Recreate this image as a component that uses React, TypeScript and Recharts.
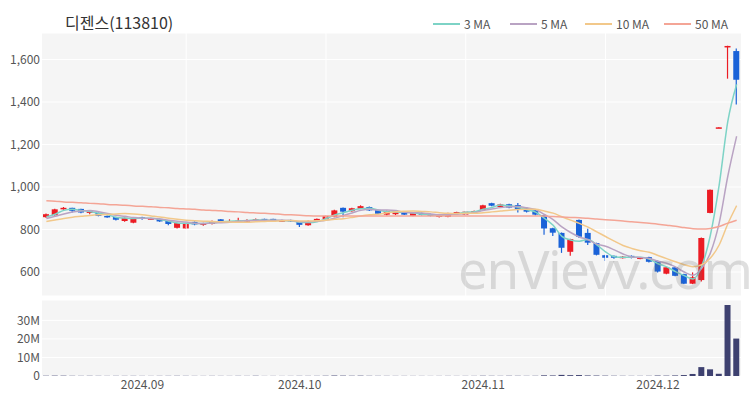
import { ComposedChart, BarChart, Bar, Line, XAxis, YAxis, CartesianGrid, ReferenceLine } from 'recharts';

const FONT = '"Noto Sans CJK KR", "Noto Sans", sans-serif';
const UP = '#ec1c24';
const DOWN = '#1a62d8';

// trading days, 2024.08.16 ~ 2024.12.13
const dates = [
  '08.16', '08.19', '08.20', '08.21', '08.22', '08.23', '08.26', '08.27', '08.28', '08.29', '08.30',
  '09.02', '09.03', '09.04', '09.05', '09.06', '09.09', '09.10', '09.11', '09.12', '09.13',
  '09.19', '09.20', '09.23', '09.24', '09.25', '09.26', '09.27', '09.30',
  '10.01', '10.02', '10.04', '10.07', '10.08', '10.10', '10.11', '10.14', '10.15', '10.16', '10.17',
  '10.18', '10.21', '10.22', '10.23', '10.24', '10.25', '10.28', '10.29', '10.30', '10.31',
  '11.01', '11.04', '11.05', '11.06', '11.07', '11.08', '11.11', '11.12', '11.13', '11.14',
  '11.15', '11.18', '11.19', '11.20', '11.21', '11.22', '11.25', '11.26', '11.27', '11.28',
  '12.02', '12.03', '12.04', '12.05', '12.06', '12.09', '12.10', '12.11', '12.12', '12.13',
];

const opens = [
  858, 868, 895, 902, 897, 878, 878, 864, 859, 840,
  832, 858, 850, 850, 840, 808, 805, 836, 822, 826,
  848, 834, 834, 838, 842, 850, 850, 843, 845, 836,
  820, 838, 848, 860, 902, 886, 898, 906, 892, 870,
  872, 882, 864, 878, 873, 862, 860, 878, 870, 880,
  892, 924, 906, 919, 915, 901, 890, 868, 806, 784,
  695, 845, 784, 736, 679, 676, 665, 676, 662, 670,
  652, 592, 622, 590, 545, 562, 878, 1280, 1660, 1640,
];
const closes = [
  872, 895, 902, 888, 880, 886, 864, 860, 846, 855,
  855, 850, 853, 838, 826, 830, 830, 824, 830, 840,
  838, 840, 842, 844, 848, 840, 842, 843, 838, 822,
  840, 850, 864, 890, 884, 900, 910, 890, 874, 887,
  886, 870, 877, 869, 864, 866, 877, 882, 884, 887,
  914, 912, 918, 903, 893, 884, 870, 805, 785, 714,
  755, 766, 738, 681, 667, 667, 672, 667, 668, 648,
  602, 622, 582, 545, 575, 760, 987, 1281, 1664, 1505,
];
const highs = [
  875, 898, 906, 903, 898, 890, 880, 866, 860, 857,
  858, 860, 855, 851, 842, 832, 832, 838, 832, 842,
  850, 848, 855, 848, 852, 851, 851, 846, 846, 838,
  842, 852, 866, 893, 904, 903, 914, 908, 893, 889,
  888, 884, 880, 880, 875, 868, 879, 884, 886, 889,
  917, 926, 921, 921, 925, 903, 892, 870, 808, 786,
  757, 847, 803, 738, 681, 678, 675, 678, 670, 672,
  654, 624, 624, 592, 598, 762, 988, 1282, 1665, 1652,
];
const lows = [
  855, 865, 893, 880, 876, 872, 862, 855, 842, 836,
  830, 846, 848, 836, 820, 805, 803, 820, 818, 824,
  836, 831, 831, 835, 840, 838, 840, 840, 835, 812,
  818, 836, 846, 858, 858, 883, 896, 887, 872, 866,
  868, 868, 862, 866, 862, 856, 858, 876, 866, 878,
  890, 910, 904, 900, 880, 880, 866, 775, 770, 690,
  676, 760, 727, 678, 652, 662, 663, 664, 660, 645,
  598, 589, 580, 543, 543, 555, 876, 1279, 1510, 1388,
];
// volume, millions of shares
const volumes = [
  0.15, 0.2, 0.18, 0.12, 0.1, 0.12, 0.1, 0.08, 0.1, 0.09,
  0.1, 0.08, 0.07, 0.09, 0.1, 0.12, 0.1, 0.08, 0.07, 0.09,
  0.08, 0.07, 0.1, 0.08, 0.07, 0.06, 0.07, 0.06, 0.07, 0.1,
  0.09, 0.1, 0.15, 0.25, 0.2, 0.15, 0.18, 0.12, 0.1, 0.09,
  0.08, 0.08, 0.07, 0.07, 0.06, 0.07, 0.08, 0.07, 0.08, 0.08,
  0.15, 0.12, 0.1, 0.1, 0.12, 0.1, 0.12, 0.35, 0.3, 0.6,
  0.45, 0.5, 0.3, 0.25, 0.2, 0.15, 0.12, 0.1, 0.1, 0.12,
  0.25, 0.2, 0.3, 0.5, 1.1, 4.8, 3.6, 1.2, 38.3, 20.2,
];
const ma3 = [
  860, 872, 890, 895, 890, 885, 877, 870, 857, 854,
  852, 853, 853, 847, 839, 831, 829, 828, 828, 831,
  836, 839, 840, 842, 845, 844, 843, 842, 841, 834,
  833, 837, 851, 868, 879, 891, 898, 900, 891, 884,
  882, 881, 878, 872, 870, 866, 869, 875, 881, 884,
  895, 904, 915, 911, 905, 893, 882, 853, 820, 768,
  751, 745, 753, 728, 695, 672, 669, 669, 669, 661,
  639, 624, 602, 583, 567, 627, 774, 1009, 1311, 1483,
];
const ma5 = [
  852, 862, 873, 882, 887, 890, 884, 876, 867, 862,
  856, 853, 852, 850, 844, 839, 835, 830, 828, 831,
  832, 834, 838, 841, 842, 843, 843, 843, 842, 837,
  837, 839, 843, 853, 866, 878, 890, 895, 892, 892,
  889, 881, 879, 878, 873, 869, 871, 872, 875, 879,
  889, 896, 903, 907, 908, 902, 894, 871, 847, 812,
  786, 765, 752, 731, 721, 704, 685, 671, 668, 664,
  651, 641, 624, 600, 585, 617, 690, 830, 1053, 1239,
];
const ma10 = [
  838, 845, 852, 858, 862, 866, 869, 871, 873, 875,
  873, 869, 864, 859, 853, 848, 844, 841, 839, 838,
  836, 835, 834, 834, 837, 838, 839, 841, 842, 840,
  840, 841, 843, 848, 851, 857, 864, 869, 872, 879,
  884, 886, 887, 885, 883, 879, 876, 875, 876, 876,
  879, 883, 887, 891, 894, 895, 895, 887, 877, 860,
  844, 829, 811, 789, 767, 745, 725, 711, 700, 693,
  678, 663, 648, 634, 625, 634, 666, 727, 827, 912,
];
const ma50 = [
  935, 933, 930, 928, 926, 923, 921, 918, 916, 914,
  911, 909, 907, 904, 902, 899, 897, 895, 892, 890,
  888, 885, 883, 880, 878, 876, 874, 871, 869, 867,
  865, 864, 864, 864, 864, 864, 864, 864, 863, 863,
  863, 863, 863, 863, 863, 863, 863, 863, 863, 863,
  863, 864, 864, 864, 864, 864, 864, 863, 861, 859,
  857, 855, 853, 849, 846, 843, 840, 836, 833, 830,
  825, 820, 815, 809, 804, 802, 805, 814, 830, 844,
];

const priceTicks = [600, 800, 1000, 1200, 1400, 1600];
const volumeTicks = [0, 10, 20, 30];
const monthTicks = ['09.02', '10.01', '11.01', '12.02'];
const monthLabels = ['2024.09', '2024.10', '2024.11', '2024.12'];
const gridTicks = ['09.09', '10.07', '10.30', '11.21'];

const maSeries = [
  { key: 'ma3', name: '3 MA', color: '#7dd3c6', w: 77 },
  { key: 'ma5', name: '5 MA', color: '#b9a3c3', w: 75 },
  { key: 'ma10', name: '10 MA', color: '#f2c88a', w: 79 },
  { key: 'ma50', name: '50 MA', color: '#f4a596', w: 80 },
];

const rows = dates.map((date, i) => ({
  date,
  open: opens[i],
  close: closes[i],
  high: highs[i],
  low: lows[i],
  range: [lows[i], highs[i]],
  vol: volumes[i],
  ma3: ma3[i],
  ma5: ma5[i],
  ma10: ma10[i],
  ma50: ma50[i],
}));

const Candle = (props: any) => {
  const { x, y, width, height, payload } = props;
  const { open, close, high, low } = payload;
  const top = Math.min(y, y + height);
  const h = Math.abs(height);
  const k = high === low ? 0 : h / (high - low);
  const yo = top + (high - open) * k;
  const yc = top + (high - close) * k;
  const color = close >= open ? UP : DOWN;
  const cx = x + width / 2;
  return (
    <g>
      <line x1={cx} x2={cx} y1={top} y2={top + h} stroke={color} strokeWidth={1.2} />
      <rect x={x} y={Math.min(yo, yc)} width={width} height={Math.max(Math.abs(yc - yo), 1.5)} fill={color} />
    </g>
  );
};

const tickStyle = { fontSize: 12, fill: '#555', fontFamily: FONT };

export default function App() {
  return (
    <div style={{ position: 'absolute', left: 0, top: 0, width: 750, height: 400, background: '#fff', fontFamily: FONT }}>
      <div style={{ position: 'absolute', left: 65, top: 10, fontSize: 16, color: '#333' }}>디젠스(113810)</div>
      <div style={{ position: 'absolute', left: 433, top: 15, display: 'flex', alignItems: 'center', fontSize: 12, color: '#555' }}>
        {maSeries.map((s) => (
          <div key={s.key} style={{ display: 'flex', alignItems: 'center', width: s.w }}>
            <span style={{ display: 'inline-block', width: 27, height: 2, background: s.color, marginRight: 4 }} />
            <span>{s.name}</span>
          </div>
        ))}
      </div>

      <div style={{ position: 'absolute', left: 0, top: 0 }}>
        <ComposedChart width={750} height={300} data={rows} margin={{ top: 33, right: 9, bottom: 4, left: 0 }}>
          <CartesianGrid stroke="#fff" fill="#f5f5f5" vertical={false} />
          <XAxis dataKey="date" hide />
          <YAxis
            domain={[487, 1725]}
            ticks={priceTicks}
            interval={0}
            width={42}
            tickLine={false}
            axisLine={false}
            tickSize={0}
            tickMargin={2}
            tick={tickStyle}
            tickFormatter={(v: number) => v.toLocaleString('en-US')}
          />
          {gridTicks.map((d) => (
            <ReferenceLine key={d} x={d} stroke="#fff" strokeWidth={1} />
          ))}
          <Bar dataKey="range" shape={Candle} barSize={6} isAnimationActive={false} />
          {maSeries.map((s) => (
            <Line
              key={s.key}
              type="monotone"
              dataKey={s.key}
              stroke={s.color}
              strokeWidth={1.5}
              dot={false}
              activeDot={false}
              isAnimationActive={false}
            />
          ))}
        </ComposedChart>
      </div>

      <div style={{ position: 'absolute', left: 0, top: 300 }}>
        <BarChart width={750} height={100} data={rows} margin={{ top: 0, right: 9, bottom: 0, left: 0 }}>
          <CartesianGrid stroke="#fff" fill="#f5f5f5" vertical={false} />
          <XAxis
            dataKey="date"
            ticks={monthTicks}
            interval={0}
            height={24}
            tickLine={false}
            axisLine={false}
            tickSize={0}
            tickMargin={4}
            tick={tickStyle}
            tickFormatter={(d: string) => monthLabels[monthTicks.indexOf(d)] ?? ''}
          />
          <YAxis
            domain={[0, 41]}
            ticks={volumeTicks}
            interval={0}
            width={42}
            tickLine={false}
            axisLine={false}
            tickSize={0}
            tickMargin={2}
            tick={tickStyle}
            tickFormatter={(v: number) => (v === 0 ? '0' : `${v}M`)}
          />
          <Bar dataKey="vol" fill="#3e4170" barSize={6} isAnimationActive={false} />
        </BarChart>
      </div>

      <div
        style={{
          position: 'absolute',
          left: 458,
          top: 232,
          fontSize: 53,
          fontFamily: '"Noto Sans", sans-serif',
          color: 'rgba(110,110,110,0.22)',
          pointerEvents: 'none',
          letterSpacing: -1.5,
        }}
      >
        enVievv.com
      </div>
    </div>
  );
}
